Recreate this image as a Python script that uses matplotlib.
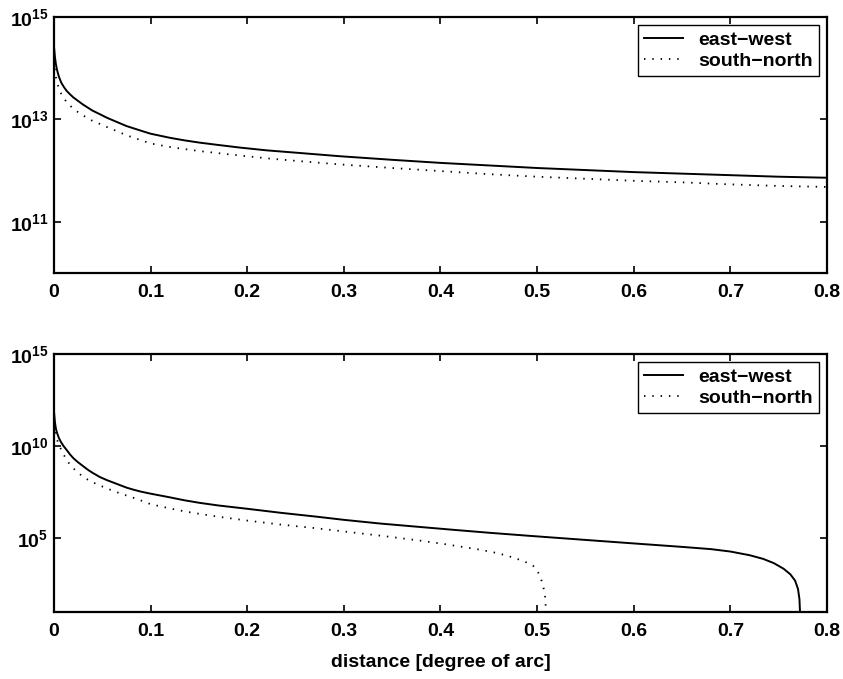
import numpy as np
import matplotlib
matplotlib.use('Agg')
import matplotlib.pyplot as plt
from matplotlib.ticker import FixedLocator, FuncFormatter, NullLocator

plt.rcParams['font.family'] = ['Liberation Sans', 'DejaVu Sans']
plt.rcParams['font.weight'] = 'bold'
plt.rcParams['mathtext.fontset'] = 'custom'
plt.rcParams['mathtext.rm'] = 'Liberation Sans:bold'
plt.rcParams['mathtext.bf'] = 'Liberation Sans:bold'
plt.rcParams['mathtext.default'] = 'rm'

# upper panel (log10 of values)
top_x = [0, 0.001, 0.002, 0.003, 0.005, 0.0075, 0.01, 0.013, 0.0166, 0.02, 0.025, 0.03,
         0.035, 0.04, 0.0476, 0.055, 0.065, 0.075, 0.089, 0.1, 0.12, 0.135, 0.151, 0.17,
         0.192, 0.22, 0.25, 0.296, 0.35, 0.4, 0.45, 0.5, 0.55, 0.6, 0.65, 0.7, 0.75, 0.8]
top_ew = [14.43, 14.22, 14.08, 13.98, 13.84, 13.72, 13.64, 13.56, 13.49, 13.43, 13.36, 13.29,
          13.23, 13.17, 13.1, 13.03, 12.95, 12.87, 12.785, 12.72, 12.64, 12.59, 12.545, 12.5,
          12.45, 12.395, 12.35, 12.28, 12.21, 12.15, 12.1, 12.05, 12.01, 11.97, 11.94, 11.91,
          11.88, 11.86]
top_sn = [14.15, 13.96, 13.83, 13.74, 13.61, 13.5, 13.42, 13.34, 13.27, 13.21, 13.14, 13.08,
          13.02, 12.97, 12.91, 12.85, 12.77, 12.69, 12.6, 12.53, 12.46, 12.42, 12.38, 12.34,
          12.295, 12.24, 12.19, 12.12, 12.05, 11.99, 11.93, 11.88, 11.84, 11.8, 11.77, 11.73,
          11.7, 11.68]

# lower panel (log10 of values)
bot_ew_x = [0, 0.001, 0.002, 0.003, 0.005, 0.0075, 0.01, 0.013, 0.0166, 0.02, 0.025, 0.03,
            0.035, 0.04, 0.0476, 0.055, 0.065, 0.075, 0.082, 0.09, 0.1, 0.12, 0.135, 0.151,
            0.17, 0.2, 0.235, 0.272, 0.3, 0.3374, 0.375, 0.413, 0.45, 0.4926, 0.55, 0.6,
            0.648, 0.68, 0.7, 0.72, 0.734, 0.745, 0.755, 0.762, 0.767, 0.77, 0.7715, 0.7725]
bot_ew = [11.9, 11.3, 10.95, 10.75, 10.45, 10.2, 10.0, 9.8, 9.55, 9.35, 9.12, 8.92,
          8.72, 8.55, 8.32, 8.15, 7.95, 7.75, 7.64, 7.53, 7.42, 7.22, 7.06, 6.92,
          6.78, 6.6, 6.38, 6.17, 6.0, 5.8, 5.63, 5.46, 5.3, 5.13, 4.91, 4.72,
          4.54, 4.41, 4.28, 4.08, 3.88, 3.65, 3.35, 3.05, 2.7, 2.25, 1.7, 0.5]
bot_sn_x = [0, 0.001, 0.002, 0.003, 0.005, 0.0075, 0.01, 0.013, 0.0166, 0.02, 0.025, 0.03,
            0.035, 0.04, 0.0476, 0.055, 0.065, 0.075, 0.082, 0.09, 0.1, 0.12, 0.135, 0.151,
            0.17, 0.2, 0.235, 0.272, 0.3, 0.341, 0.375, 0.406, 0.441, 0.46, 0.475, 0.487,
            0.496, 0.501, 0.504, 0.506, 0.508, 0.5088, 0.509]
bot_sn = [11.2, 10.8, 10.55, 10.38, 10.1, 9.8, 9.55, 9.25, 9.0, 8.8, 8.55, 8.35,
          8.18, 8.04, 7.86, 7.7, 7.5, 7.32, 7.2, 7.05, 6.85, 6.62, 6.46, 6.32,
          6.17, 5.96, 5.74, 5.54, 5.37, 5.12, 4.9, 4.67, 4.38, 4.18, 3.96, 3.74,
          3.5, 3.15, 2.8, 2.45, 2.0, 1.5, 0.5]

xticks = [0, 0.1, 0.2, 0.3, 0.4, 0.5, 0.6, 0.7, 0.8]
fs = 14

fig = plt.figure(figsize=(8.43, 6.79), dpi=100)
ax1 = fig.add_axes([0.064, 0.598, 0.917, 0.377])
ax2 = fig.add_axes([0.064, 0.0987, 0.917, 0.380])

dots = (0, (0.8, 3.8))

ax1.plot(top_x, 10.0 ** np.array(top_ew), color='k', lw=1.4, label='east\u2212west')
ax1.plot(top_x, 10.0 ** np.array(top_sn), color='k', lw=1.3, ls=dots, label='south\u2212north')
ax2.plot(bot_ew_x, 10.0 ** np.array(bot_ew), color='k', lw=1.4, label='east\u2212west')
ax2.plot(bot_sn_x, 10.0 ** np.array(bot_sn), color='k', lw=1.3, ls=dots, label='south\u2212north')

for ax in (ax1, ax2):
    ax.set_yscale('log')
    ax.set_xlim(0, 0.8)
    ax.set_xticks(xticks)
    ax.xaxis.set_major_formatter(FuncFormatter(lambda v, p: '%g' % v))
    ax.yaxis.set_minor_locator(NullLocator())
    ax.tick_params(which='both', direction='in', top=True, right=True, length=5, width=1.2,
                   labelsize=fs)
    ax.tick_params(axis='x', pad=8)
    ax.tick_params(axis='y', pad=4)
    for s in ax.spines.values():
        s.set_linewidth(1.6)
    leg = ax.legend(loc='upper right', fontsize=fs, fancybox=False, framealpha=1,
                    edgecolor='k', borderaxespad=0.42, borderpad=0.3, labelspacing=0.2,
                    handlelength=2.0, handletextpad=0.8)
    leg.get_frame().set_linewidth(1.0)

ax1.set_ylim(1e10, 1e15)
ax2.set_ylim(1e1, 1e15)
ax1.yaxis.set_major_locator(FixedLocator([1e11, 1e13, 1e15]))
ax2.yaxis.set_major_locator(FixedLocator([1e5, 1e10, 1e15]))
for ax in (ax1, ax2):
    ax.yaxis.set_major_formatter(FuncFormatter(lambda v, p: r'$10^{%d}$' % round(np.log10(v))))

ax2.set_xlabel('distance [degree of arc]', fontsize=fs, fontweight='bold', labelpad=10)

fig.savefig('out.png', dpi=100)
